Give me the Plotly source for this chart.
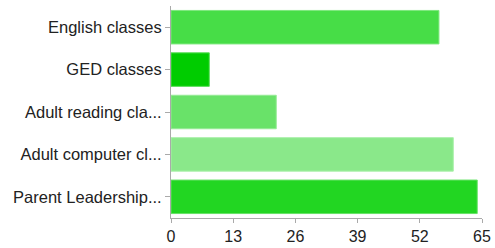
import plotly.graph_objects as go

categories = ["English classes", "GED classes", "Adult reading cla...", "Adult computer cl...", "Parent Leadership..."]
values = [56, 8, 22, 59, 64]
colors = ["#47dd47", "#00cc00", "#69e269", "#8ae88a", "#22d622"]
border_colors = ["#7ee87e", "#55dd55", "#95ea95", "#aaf0aa", "#66e266"]
x_ticks = [0, 13, 26, 39, 52, 65]

fig = go.Figure(go.Bar(
    y=categories,
    x=values,
    orientation="h",
    marker=dict(color=colors, line=dict(color=border_colors, width=1)),
))

fig.update_layout(
    width=495, height=248,
    margin=dict(l=171, r=13, t=6, b=30),
    plot_bgcolor="white", paper_bgcolor="white",
    bargap=0.21,
    showlegend=False,
    font=dict(family="Liberation Sans, Arial, sans-serif", size=16, color="#222222"),
)
fig.update_yaxes(
    autorange="reversed", automargin=False,
    showline=True, linecolor="#aaaaaa", linewidth=1,
    ticks="outside", ticklen=5, tickcolor="#aaaaaa",
    showgrid=False,
    tickfont=dict(size=16.5),
)
fig.update_xaxes(
    range=[0, 65], tickvals=x_ticks, automargin=False,
    showline=True, linecolor="#aaaaaa", linewidth=1,
    ticks="outside", ticklen=4, tickcolor="#aaaaaa",
    showgrid=False, zeroline=False,
    tickfont=dict(size=16),
)

fig.write_html(
    "out.html",
    config={"displayModeBar": False},
    post_script="document.body.style.margin='0';document.documentElement.style.margin='0';",
)
